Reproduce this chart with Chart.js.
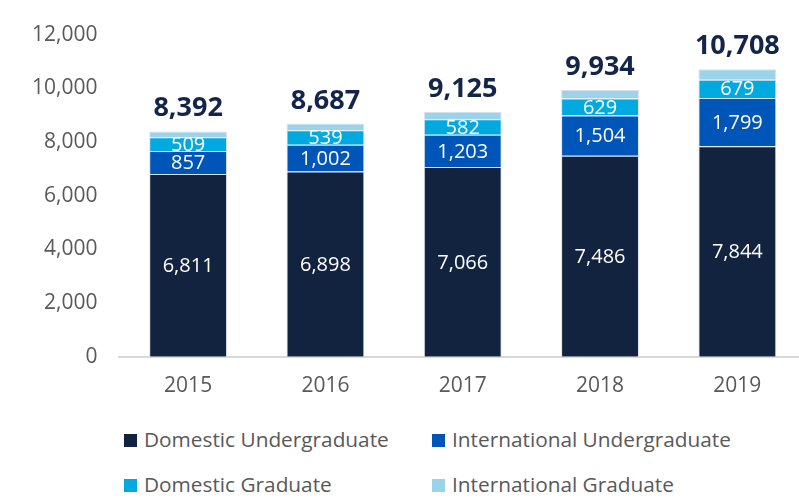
<!DOCTYPE html>
<html>
<head>
<meta charset="utf-8">
<script src="https://cdn.jsdelivr.net/npm/chart.js@4/dist/chart.umd.min.js"></script>
<style>
  html, body { margin: 0; padding: 0; background: #fff; overflow: hidden; }
  #wrap { position: relative; width: 799px; height: 498px; }
  #chart-box { position: absolute; left: 0; top: 0; width: 810px; height: 416px; }
  #legend { position: absolute; left: 124px; top: 426px; width: 660px;
    font-family: 'Open Sans', sans-serif; font-size: 20.8px; color: #595959; }
  .lg-item { position: absolute; white-space: nowrap; line-height: 26px; }
  .lg-box { display: inline-block; width: 13px; height: 13px; margin-right: 7px; vertical-align: 0px; }
</style>
</head>
<body>
<div id="wrap">
  <div id="chart-box"><canvas id="enrolment-chart"></canvas></div>
  <div id="legend"></div>
</div>
<script>
var years = ['2015', '2016', '2017', '2018', '2019'];
var domesticUndergrad = [6811, 6898, 7066, 7486, 7844];
var intlUndergrad = [857, 1002, 1203, 1504, 1799];
var domesticGrad = [509, 539, 582, 629, 679];
var intlGrad = [215, 248, 274, 315, 386];
var yTicks = [0, 2000, 4000, 6000, 8000, 10000, 12000];

var seriesNames = ['Domestic Undergraduate', 'International Undergraduate', 'Domestic Graduate', 'International Graduate'];
var seriesColors = ['#12233f', '#0055b8', '#00a9e0', '#9ad3ea'];

function fmt(n) {
  return n.toLocaleString('en-US');
}

// segment values inside the bars and the stack totals on top
var valueLabels = {
  id: 'valueLabels',
  afterDatasetsDraw: function (chart) {
    var ctx = chart.ctx;
    ctx.save();
    ctx.textAlign = 'center';
    ctx.textBaseline = 'middle';
    ctx.fillStyle = '#ffffff';
    ctx.font = '20px "Open Sans", sans-serif';
    for (var d = 0; d < 3; d++) {
      var meta = chart.getDatasetMeta(d);
      meta.data.forEach(function (bar, i) {
        var v = chart.data.datasets[d].data[i];
        ctx.fillText(fmt(v), bar.x, (bar.y + bar.base) / 2 + 1);
      });
    }
    var top = chart.getDatasetMeta(3);
    ctx.fillStyle = '#13264a';
    ctx.font = 'bold 27px "Open Sans", sans-serif';
    ctx.textBaseline = 'alphabetic';
    top.data.forEach(function (bar, i) {
      var total = domesticUndergrad[i] + intlUndergrad[i] + domesticGrad[i] + intlGrad[i];
      ctx.fillText(fmt(total), bar.x, bar.y - 15);
    });
    ctx.restore();
  }
};

function buildLegend() {
  var el = document.getElementById('legend');
  var pos = [[0, 0], [308, 0], [0, 45], [308, 45]];
  seriesNames.forEach(function (name, i) {
    var item = document.createElement('div');
    item.className = 'lg-item';
    item.style.left = pos[i][0] + 'px';
    item.style.top = pos[i][1] + 'px';
    var box = document.createElement('span');
    box.className = 'lg-box';
    box.style.background = seriesColors[i];
    item.appendChild(box);
    item.appendChild(document.createTextNode(name));
    el.appendChild(item);
  });
}

function render() {
  var ctx = document.getElementById('enrolment-chart').getContext('2d');
  var values = [domesticUndergrad, intlUndergrad, domesticGrad, intlGrad];
  new Chart(ctx, {
    type: 'bar',
    data: {
      labels: years,
      datasets: values.map(function (arr, i) {
        return {
          label: seriesNames[i],
          data: arr,
          backgroundColor: seriesColors[i],
          borderColor: 'rgba(214,222,234,0.9)',
          borderWidth: 1,
          barPercentage: 0.567,
          categoryPercentage: 1
        };
      })
    },
    options: {
      responsive: true,
      maintainAspectRatio: false,
      animation: false,
      layout: { padding: { left: 10, right: 4, top: 16, bottom: 0 } },
      plugins: { legend: { display: false }, tooltip: { enabled: false } },
      scales: {
        x: {
          stacked: true,
          grid: { display: false, drawTicks: false },
          border: { display: true, color: '#d9d9d9', width: 2 },
          ticks: { color: '#595959', font: { family: 'Open Sans', size: 21 }, padding: 17 }
        },
        y: {
          stacked: true,
          min: 0,
          max: 12000,
          afterBuildTicks: function (axis) {
            axis.ticks = yTicks.map(function (v) { return { value: v }; });
          },
          grid: { display: false, drawTicks: false },
          border: { display: false },
          ticks: {
            color: '#595959',
            font: { family: 'Open Sans', size: 21 },
            padding: 22,
            callback: function (v) { return fmt(v); }
          }
        }
      }
    },
    plugins: [valueLabels]
  });
}

buildLegend();
render();
</script>
</body>
</html>
